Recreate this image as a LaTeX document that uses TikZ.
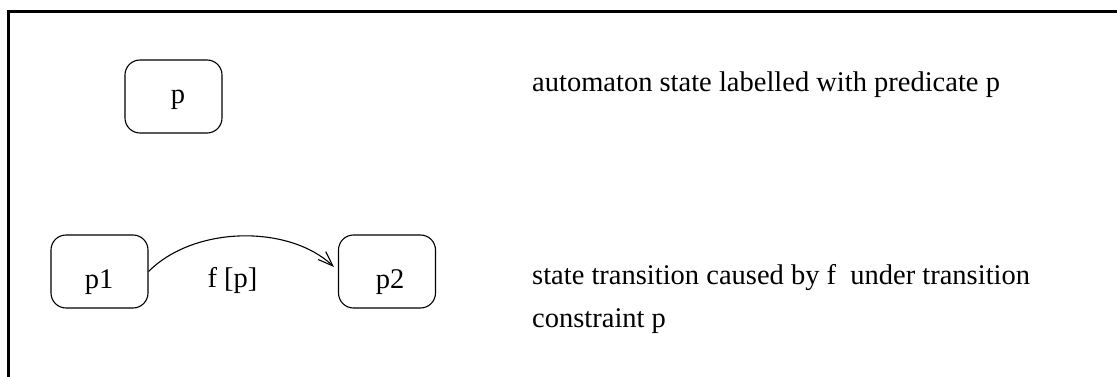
\documentclass[tikz,border=0pt]{standalone}
\usepackage{fontspec}
\setmainfont{Liberation Serif}
\usetikzlibrary{arrows.meta,calc}
\begin{document}
\begin{tikzpicture}[x=1pt,y=-1pt,
  statebox/.style={draw, line width=1.1pt, rounded corners=15pt, minimum width=97pt, minimum height=73pt, inner sep=0pt},
  txt/.style={font=\fontsize{28.5}{43}\selectfont, inner sep=0pt, anchor=base west},
  lbl/.style={font=\fontsize{28.5}{43}\selectfont, inner sep=0pt, anchor=base}]
\useasboundingbox (0,0) rectangle (1117,377);
\draw[line width=2.7pt] (8.7,377) -- (8.7,11.3) -- (1117,11.3);
% state p
\node[statebox] (sp) at (173.5,96.5) {};
\node[lbl] (tp) at (178,104) {p};
\node[txt] (d1) at (532,92) {automaton state labelled with predicate p};
% transition
\node[statebox] (p1) at (99.5,271.5) {};
\node[lbl] (tp1) at (99,288) {p1};
\node[statebox] (p2) at (387,271.5) {};
\node[lbl] (tp2) at (390,288) {p2};
\draw[line width=1.1pt, -{Straight Barb[length=15pt,width=11pt,line width=1.1pt]}]
  (p1.east) .. controls (195,225) and (290,225) .. ($(p2.west)+(-4,-4.5)$);
\node[lbl] (f) at (232.5,287) {f [p]};
\node[txt] (d2) at (532,284) {state transition caused by f\ \ under transition};
\node[txt] (d3) at (532,327) {constraint p};
\end{tikzpicture}
\end{document}
